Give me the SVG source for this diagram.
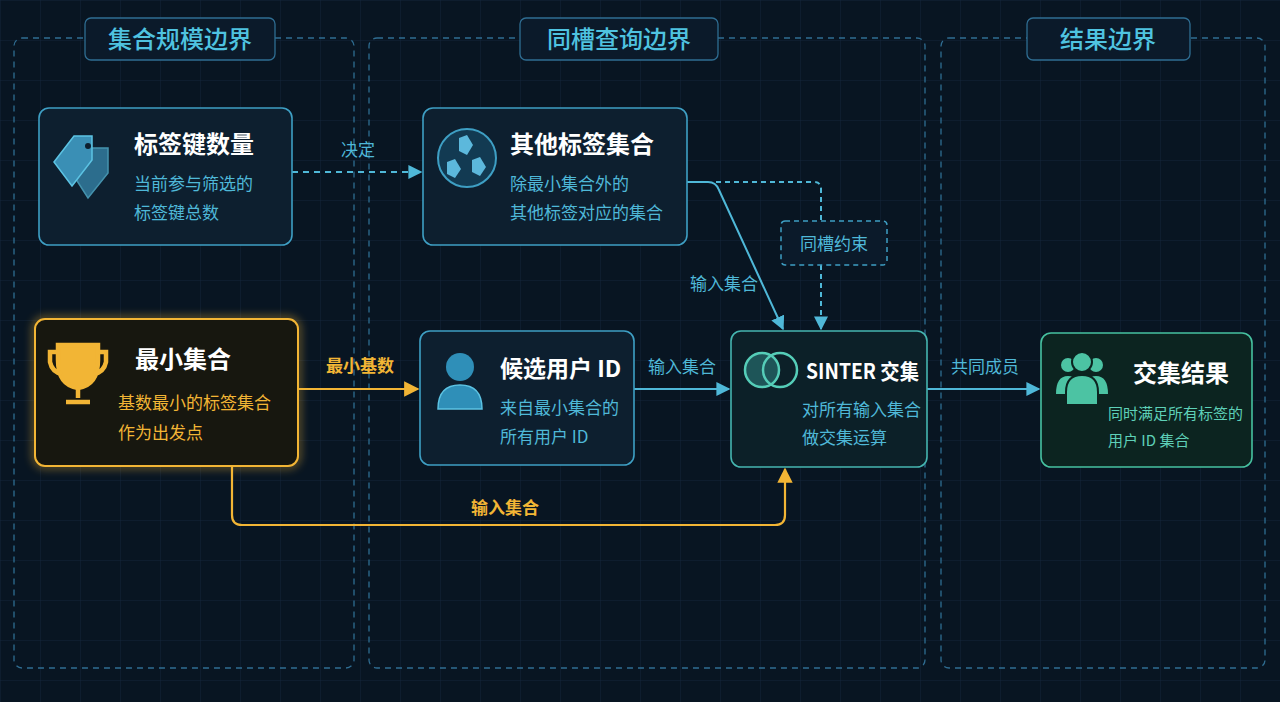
<svg xmlns="http://www.w3.org/2000/svg" width="1280" height="702" viewBox="0 0 1280 702">
<defs>
<pattern id="grid" width="40" height="40" patternUnits="userSpaceOnUse"><path d="M40 0H0V40" fill="none" stroke="#13263a" stroke-width="1"/></pattern>
<marker id="ab" viewBox="0 0 10 10" refX="9" refY="5" markerWidth="7" markerHeight="7" orient="auto"><path d="M0 0L10 5L0 10z" fill="#4fb8d8"/></marker>
<marker id="ag" viewBox="0 0 10 10" refX="9" refY="5" markerWidth="7" markerHeight="7" orient="auto"><path d="M0 0L10 5L0 10z" fill="#f2b535"/></marker>
<filter id="glow" x="-20%" y="-20%" width="140%" height="140%"><feGaussianBlur stdDeviation="4"/></filter>
</defs>
<style>
text{font-family:"Noto Sans CJK SC","Noto Sans",sans-serif}
.bnd{fill:none;stroke:#2f6d92;stroke-width:1.3;stroke-dasharray:6 5}
.blab{fill:#0b1a2a;stroke:#2f6d92;stroke-width:1.3}
.bt{fill:#4fc3e0;font-size:24px;font-weight:500;text-anchor:middle}
.node{fill:#0d1f2f;stroke:#3e9fc4;stroke-width:1.6}
.t{fill:#ffffff;font-size:24px;font-weight:700}
.s{fill:#4fb8d8;font-size:17px}
.lb{fill:#4fb8d8;font-size:17px;text-anchor:middle}
.lg{fill:#f2b535;font-size:17px;text-anchor:middle;font-weight:700}
.cb{fill:none;stroke:#4fb8d8;stroke-width:2}
.cg{fill:none;stroke:#f2b535;stroke-width:2.2}
</style>
<rect width="1280" height="702" fill="#081522"/>
<rect width="1280" height="702" fill="url(#grid)"/>
<g id="boundaries">
<rect class="bnd" x="14" y="38" width="340" height="630" rx="8"/>
<rect class="blab" x="85" y="18" width="190" height="42" rx="6"/><text class="bt" x="180" y="48">集合规模边界</text>
<rect class="bnd" x="369" y="38" width="556" height="630" rx="8"/>
<rect class="blab" x="520" y="18" width="198" height="42" rx="6"/><text class="bt" x="619" y="48">同槽查询边界</text>
<rect class="bnd" x="941" y="38" width="324" height="630" rx="8"/>
<rect class="blab" x="1027" y="18" width="163" height="42" rx="6"/><text class="bt" x="1108" y="48">结果边界</text>
</g>
<g id="connectors">
<path class="cb" d="M292 172H421" stroke-dasharray="6 5" marker-end="url(#ab)"/>
<text class="lb" x="358" y="156">决定</text>
<path class="cb" d="M687 182H708Q716 182 719 190L783 329" marker-end="url(#ab)"/>
<text class="lb" x="724" y="290">输入集合</text>
<path class="cb" d="M716 182H814Q821 182 821 189V221" stroke-dasharray="5 4" stroke-width="1.5"/>
<path class="cb" d="M821 265V329" stroke-dasharray="5 4" stroke-width="1.5" marker-end="url(#ab)"/>
<path class="cg" d="M298 389H418" marker-end="url(#ag)"/>
<text class="lg" x="360" y="372">最小基数</text>
<path class="cb" d="M634 389H729" marker-end="url(#ab)"/>
<text class="lb" x="682" y="373">输入集合</text>
<path class="cb" d="M927 389H1039" marker-end="url(#ab)"/>
<text class="lb" x="985" y="373">共同成员</text>
<path class="cg" d="M232 466V515Q232 525 242 525H775Q785 525 785 515V469" marker-end="url(#ag)"/>
<text class="lg" x="505" y="514">输入集合</text>
</g>
<g id="n-count">
<rect class="node" x="39" y="108" width="253" height="137" rx="10"/>
<g fill="#3a8fb5" stroke="#5cc3e3" stroke-width="1.5"><path d="M62 165L82 140H98V165L78 190Z" opacity="0.7" transform="translate(10,8)"/><path d="M54 162L74 136H92V160L72 186Z"/></g>
<circle cx="88" cy="146" r="3" fill="#0d1f2f"/>
<text class="t" x="134" y="153">标签键数量</text>
<text class="s" x="134" y="190">当前参与筛选的</text>
<text class="s" x="134" y="219">标签键总数</text>
</g>
<g id="n-other">
<rect class="node" x="423" y="108" width="264" height="137" rx="10"/>
<circle cx="467" cy="158" r="29" fill="#123a52" stroke="#3e9fc4" stroke-width="2"/>
<g fill="#5cb8dc"><path d="M459 138l8 -3l6 10l-6 10l-8 -4z"/><path d="M447 162l8 -3l6 10l-6 9l-8 -4z"/><path d="M472 160l8 -3l6 10l-6 9l-8 -4z"/></g>
<text class="t" x="510" y="153">其他标签集合</text>
<text class="s" x="510" y="190">除最小集合外的</text>
<text class="s" x="510" y="219">其他标签对应的集合</text>
</g>
<g id="n-slot">
<rect x="781" y="221" width="106" height="44" rx="4" fill="#0b1a2a" stroke="#3e9fc4" stroke-width="1.5" stroke-dasharray="5 4"/>
<text class="lb" x="834" y="250">同槽约束</text>
</g>
<g id="n-min">
<rect x="35" y="319" width="263" height="147" rx="10" fill="none" stroke="#f2b535" stroke-width="6" opacity="0.45" filter="url(#glow)"/>
<rect x="35" y="319" width="263" height="147" rx="10" fill="#17170f" stroke="#f2b535" stroke-width="2"/>
<g fill="none" stroke="#f2b535" stroke-width="4.5"><path d="M58 345H98V360Q98 385 78 388Q58 385 58 360Z" fill="#f2b535"/><path d="M58 352H50V362Q52 372 62 374M98 352H106V362Q104 372 94 374"/><path d="M78 388V398M66 402H90"/></g>
<text class="t" x="135" y="368">最小集合</text>
<text class="s" x="118" y="409" style="fill:#f2b535">基数最小的标签集合</text>
<text class="s" x="118" y="439" style="fill:#f2b535">作为出发点</text>
</g>
<g id="n-cand">
<rect class="node" x="420" y="331" width="214" height="134" rx="10"/>
<circle cx="460" cy="367" r="14" fill="#2f8fb8"/>
<path d="M438 409Q438 385 460 385Q482 385 482 409Z" fill="#2f8fb8" stroke="#5cc3e3" stroke-width="1.5"/>
<text class="t" x="500" y="377" style="font-size:23px">候选用户 ID</text>
<text class="s" x="500" y="414">来自最小集合的</text>
<text class="s" x="500" y="443">所有用户 ID</text>
</g>
<g id="n-sinter">
<rect x="731" y="331" width="196" height="136" rx="10" fill="#0c2028" stroke="#45b5b0" stroke-width="1.6"/>
<circle cx="762" cy="370" r="17" fill="#2c7a78" fill-opacity="0.6" stroke="#55cdb8" stroke-width="2.5"/>
<circle cx="780" cy="370" r="17" fill="none" stroke="#55cdb8" stroke-width="2.5"/>
<text class="t" x="806" y="379" style="font-size:21px" textLength="113" lengthAdjust="spacingAndGlyphs">SINTER 交集</text>
<text class="s" x="802" y="416">对所有输入集合</text>
<text class="s" x="802" y="444">做交集运算</text>
</g>
<g id="n-result">
<rect x="1041" y="333" width="211" height="134" rx="10" fill="#0c2420" stroke="#46c1a0" stroke-width="1.6"/>
<g fill="#4cc3a3"><circle cx="1068" cy="365" r="7"/><circle cx="1096" cy="365" r="7"/><path d="M1056 394Q1056 376 1068 376Q1080 376 1080 394Z"/><path d="M1084 394Q1084 376 1096 376Q1108 376 1108 394Z"/><circle cx="1082" cy="362" r="10" stroke="#0c2420" stroke-width="2"/><path d="M1066 405V392Q1066 375 1082 375Q1098 375 1098 392V405Z" stroke="#0c2420" stroke-width="2"/></g>
<text class="t" x="1133" y="382">交集结果</text>
<text class="s" x="1108" y="419" style="fill:#5ed0b8;font-size:15px">同时满足所有标签的</text>
<text class="s" x="1108" y="446" style="fill:#5ed0b8;font-size:15px">用户 ID 集合</text>
</g>
</svg>
